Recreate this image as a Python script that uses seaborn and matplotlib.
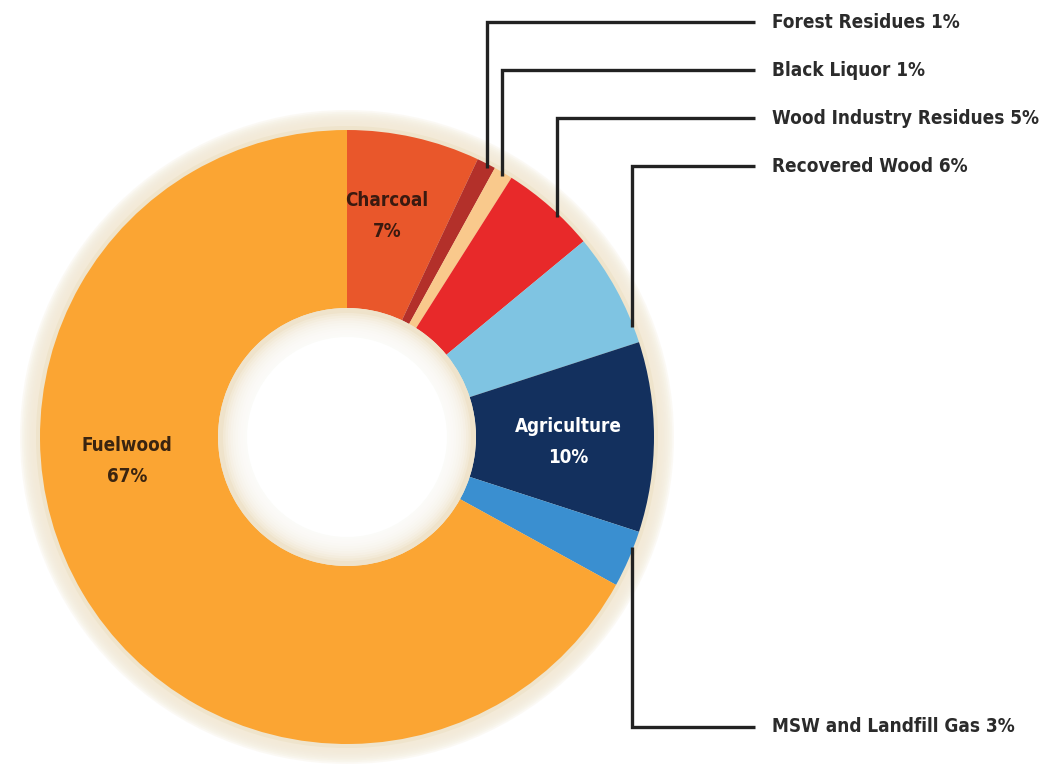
import matplotlib
matplotlib.use("Agg")
import matplotlib.pyplot as plt
from matplotlib.patches import Circle
from matplotlib import font_manager
import numpy as np
import seaborn as sns

# ---- data ----
categories = ["Charcoal", "Forest Residues", "Black Liquor", "Wood Industry Residues",
              "Recovered Wood", "Agriculture", "MSW and Landfill Gas", "Fuelwood"]
shares = [7, 1, 1, 5, 6, 10, 3, 67]
colors = ["#E9572B", "#B3302A", "#F9C98C", "#E8292A", "#7FC4E2", "#13305E", "#3A8FD0", "#FBA533"]
inside_labels = {"Charcoal": ("#3a1a10", (387, 216)),
                 "Agriculture": ("white", (568, 442)),
                 "Fuelwood": ("#3a2410", (127, 461))}
outside_labels = ["Forest Residues", "Black Liquor", "Wood Industry Residues",
                  "Recovered Wood", "MSW and Landfill Gas"]

# ---- layout (pixel coordinates, y measured from top) ----
W, H = 1048, 776
CX, CY = 347, 437
R_OUT, R_IN = 307, 129
leader_x = [487, 502, 557, 632, 632]
leader_y = [22, 70, 118, 166, 727]
line_end_x = 755
text_x = 772

sns.set_theme(style="white")
plt.rcParams["font.family"] = ["DejaVu Sans"]

fp = font_manager.FontProperties(family="DejaVu Sans", weight="bold", stretch="condensed")
condensed = "Condensed" in font_manager.findfont(fp)
stretch = "condensed" if condensed else "normal"
out_size = 13.6 if condensed else 12
in_size = 13.5 if condensed else 12

fig = plt.figure(figsize=(W / 100, H / 100), dpi=100)
ax = fig.add_axes([0, 0, 1, 1])

def py(y):
    return H - y

# soft beige outer halo
for i in range(10):
    ax.add_patch(Circle((CX, py(CY)), R_OUT + 20 - i * 1.8, color="#F3EAD7", alpha=0.25, lw=0, zorder=1))
ax.add_patch(Circle((CX, py(CY)), R_OUT + 4, color="#EFE4CC", lw=0, zorder=1.5))

wedges, _ = ax.pie(shares, colors=colors, startangle=90, counterclock=False,
                   center=(CX, py(CY)), radius=R_OUT, frame=True,
                   wedgeprops=dict(width=R_OUT - R_IN, linewidth=0))
for w in wedges:
    w.set_zorder(2)

# inner hole with soft beige rim
ax.add_patch(Circle((CX, py(CY)), R_IN, color="#EFE3CB", lw=0, zorder=3))
for i, r in enumerate(np.linspace(R_IN - 5, R_IN - 27, 10)):
    ax.add_patch(Circle((CX, py(CY)), r, color="white", alpha=0.22, lw=0, zorder=3.1 + i * 0.01))
ax.add_patch(Circle((CX, py(CY)), R_IN - 29, color="white", lw=0, zorder=3.5))

ax.set_xlim(0, W)
ax.set_ylim(0, H)
ax.set_aspect("equal")
ax.axis("off")

# inside labels
for name, (col, (x, y)) in inside_labels.items():
    i = categories.index(name)
    ax.text(x, py(y), f"{name}\n{shares[i]}%", color=col, ha="center", va="center",
            fontsize=in_size, fontweight="bold", fontstretch=stretch, linespacing=1.8, zorder=5)

# outside labels with leader lines
for name, lx, ly in zip(outside_labels, leader_x, leader_y):
    i = categories.index(name)
    dx = lx - CX
    dy = np.sqrt(R_OUT ** 2 - dx ** 2)
    y_edge = CY - dy + 4 if ly < CY else CY + dy - 4
    ax.plot([lx, lx, line_end_x], [py(y_edge), py(ly), py(ly)], color="#222222",
            lw=2.4, solid_joinstyle="miter", solid_capstyle="butt", zorder=6)
    ax.text(text_x, py(ly), f"{name} {shares[i]}%", color="#2b2b2b", ha="left", va="center",
            fontsize=out_size, fontweight="bold", fontstretch=stretch, zorder=6)

fig.savefig("out.png", dpi=100, facecolor="white")
